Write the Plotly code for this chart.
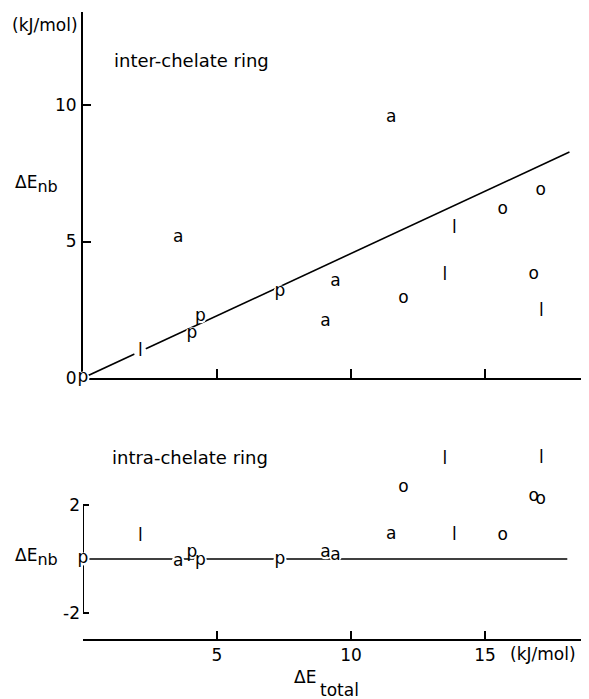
import plotly.graph_objects as go

# ---- data ----
labels = ["p", "l", "a", "p", "p", "p", "a", "a", "a", "o", "l", "l", "o", "o", "o", "l"]
e_total = [0, 2.14, 3.55, 4.06, 4.38, 7.35, 9.05, 9.42, 11.5, 11.96, 13.5, 13.86, 15.66, 16.82, 17.08, 17.1]
e_nb_inter = [0, 0.95, 5.13, 1.62, 2.24, 3.16, 2.06, 3.53, 9.52, 2.92, 3.74, 5.45, 6.15, 3.77, 6.85, 2.43]
e_nb_intra = [0, 0.83, -0.1, 0.24, -0.06, -0.02, 0.23, 0.12, 0.89, 2.65, 3.67, 0.85, 0.85, 2.31, 2.2, 3.73]

fit_x = [0, 18.15]
fit_y = [0, 8.28]
zero_x = [0, 18.07]
zero_y = [0, 0]
intra_axis_span = [-2, 2]

x_ticks = [5, 10, 15]
inter_y_ticks = [0, 5, 10]
intra_y_ticks = [-2, 2]
intra_y_ticktext = ["-2", "2"]

FONT = "DejaVu Sans"
FS = 17
BLACK = "black"

fig = go.Figure()

# top panel: regression line
fig.add_trace(go.Scatter(x=fit_x, y=fit_y, mode="lines",
                         line=dict(color=BLACK, width=1.6),
                         xaxis="x", yaxis="y", showlegend=False, hoverinfo="skip"))
# top panel: letter markers (white disc masks the line beneath)
fig.add_trace(go.Scatter(x=e_total, y=e_nb_inter, mode="markers+text", text=labels,
                         textposition="middle center",
                         textfont=dict(family=FONT, size=FS, color=BLACK),
                         marker=dict(color="white", size=13, line=dict(width=0)),
                         cliponaxis=False, xaxis="x", yaxis="y", showlegend=False))

# bottom panel: zero line
fig.add_trace(go.Scatter(x=zero_x, y=zero_y, mode="lines",
                         line=dict(color=BLACK, width=1.4),
                         xaxis="x2", yaxis="y2", showlegend=False, hoverinfo="skip"))
fig.add_trace(go.Scatter(x=e_total, y=e_nb_intra, mode="markers+text", text=labels,
                         textposition="middle center",
                         textfont=dict(family=FONT, size=FS, color=BLACK),
                         marker=dict(color="white", size=13, line=dict(width=0)),
                         cliponaxis=False, xaxis="x2", yaxis="y2", showlegend=False))

# short y-axis segment of the lower panel
fig.add_shape(type="line", xref="x2", yref="y2", x0=0, x1=0,
              y0=intra_axis_span[0], y1=intra_axis_span[1],
              line=dict(color=BLACK, width=2), layer="below")

XR = [0, 18.88]
axis_common = dict(showgrid=False, zeroline=False, linecolor=BLACK, linewidth=2,
                   tickcolor=BLACK, tickwidth=1.5, layer="below traces",
                   tickfont=dict(family=FONT, size=FS, color=BLACK))

# the page body adds an 8px offset, so the figure is 8px smaller than the window
fig.update_layout(
    width=581, height=691,
    margin=dict(l=75, r=0, t=4, b=60),
    paper_bgcolor="white", plot_bgcolor="white",
    font=dict(family=FONT, size=FS, color=BLACK),
    xaxis=dict(domain=[0, 1], range=XR, anchor="y", showline=True,
               ticks="inside", ticklen=9, tickvals=x_ticks, showticklabels=False,
               **axis_common),
    yaxis=dict(domain=[0.4163, 1], range=[0, 13.41], anchor="x", showline=True,
               ticks="inside", ticklen=8, tickvals=inter_y_ticks, ticklabelstandoff=1,
               **axis_common),
    xaxis2=dict(domain=[0, 1], range=XR, anchor="y2", showline=True,
                ticks="inside", ticklen=8, tickvals=x_ticks,
                **axis_common),
    yaxis2=dict(domain=[0, 0.3174], range=[-2.963, 4.407], anchor="x2", showline=False,
                ticks="inside", ticklen=6, tickvals=intra_y_ticks, ticktext=intra_y_ticktext,
                ticklabelstandoff=2,
                **axis_common),
)

ann = dict(showarrow=False, font=dict(family=FONT, size=FS, color=BLACK))
big = dict(showarrow=False, font=dict(family=FONT, size=18, color=BLACK))
sub_nb = "ΔE<sub><span style='font-size:16px'>nb</span></sub>"
fig.add_annotation(text="(kJ/mol)", xref="paper", yref="paper", x=-0.006, y=0.979,
                   xanchor="right", yanchor="middle", **ann)
fig.add_annotation(text=sub_nb, xref="paper", yref="paper", x=-0.138, y=0.725,
                   xanchor="left", yanchor="middle", **ann)
fig.add_annotation(text="inter-chelate ring", xref="paper", yref="paper", x=0.0573, y=0.9234,
                   xanchor="left", yanchor="middle", **big)
fig.add_annotation(text="intra-chelate ring", xref="paper", yref="paper", x=0.053, y=0.290,
                   xanchor="left", yanchor="middle", **big)
fig.add_annotation(text=sub_nb, xref="paper", yref="paper", x=-0.138, y=0.13,
                   xanchor="left", yanchor="middle", **ann)
fig.add_annotation(text="(kJ/mol)", xref="paper", yref="paper", x=0.909, y=-0.024,
                   xanchor="center", yanchor="middle", **ann)
fig.add_annotation(text="ΔE", xref="paper", yref="paper", x=0.4644, y=-0.0606,
                   xanchor="right", yanchor="middle", **ann)
fig.add_annotation(text="total", xref="paper", yref="paper", x=0.4644, y=-0.0813,
                   xanchor="left", yanchor="middle", **ann)

fig.write_html("out.html")
